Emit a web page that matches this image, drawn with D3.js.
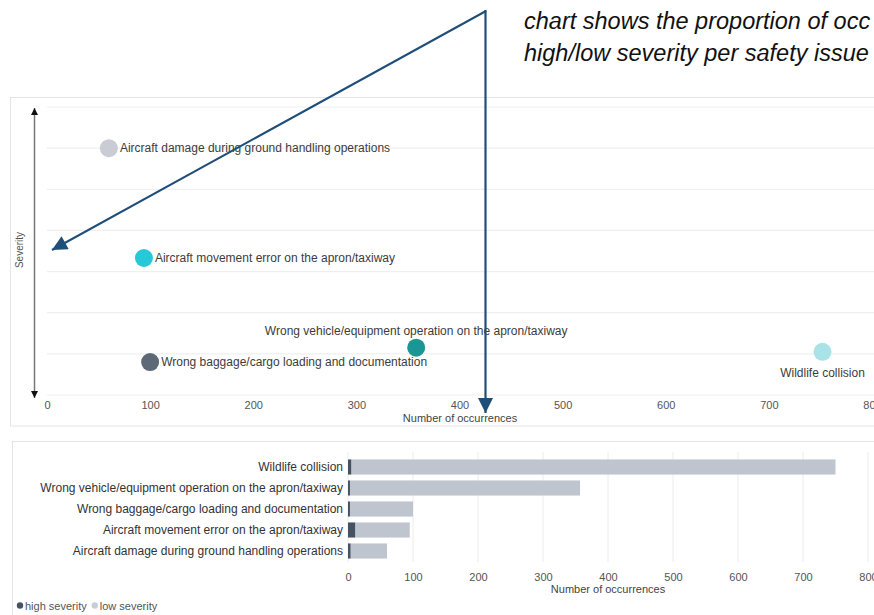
<!DOCTYPE html>
<html><head><meta charset="utf-8">
<script src="https://cdn.jsdelivr.net/npm/d3@7"></script>
<style>
html,body{margin:0;padding:0;background:#fff;}
svg{display:block;font-family:"Liberation Sans",Arial,sans-serif;}
</style></head>
<body>
<svg id="c" width="874" height="615"></svg>
<script>
// ---- data ----
const categories = [
  "Aircraft damage during ground handling operations",
  "Aircraft movement error on the apron/taxiway",
  "Wrong baggage/cargo loading and documentation",
  "Wrong vehicle/equipment operation on the apron/taxiway",
  "Wildlife collision"
];
const occurrences = [60, 94, 100, 358, 752];
const severity = [6.0, 3.33, 0.8, 1.15, 1.05];
const labelSide = ["right", "right", "right", "above", "below"];
const pointColors = ["#c9ccd4", "#27c9d8", "#5e6978", "#1a9695", "#a9e3e8"];

const barCategories = [
  "Wildlife collision",
  "Wrong vehicle/equipment operation on the apron/taxiway",
  "Wrong baggage/cargo loading and documentation",
  "Aircraft movement error on the apron/taxiway",
  "Aircraft damage during ground handling operations"
];
const highSeverity = [5, 3, 3, 11, 4];
const lowSeverity = [745, 354, 97, 84, 56];
const xTicks = [0, 100, 200, 300, 400, 500, 600, 700, 800];
const severityGrid = [0, 1, 2, 3, 4, 5, 6, 7];
const noteLines = ["chart shows the proportion of occ", "high/low severity per safety issue"];

const svg = d3.select("#c");

// ---- top panel ----
svg.append("rect").attr("x", 10.5).attr("y", 97.5).attr("width", 880).attr("height", 328.5)
  .attr("fill", "none").attr("stroke", "#e4e4e4");

const x1 = d3.scaleLinear().domain([0, 800]).range([47, 872]);
const y1 = d3.scaleLinear().domain([0, 7]).range([395, 107]);

const topG = svg.append("g");
topG.selectAll("line.g").data(severityGrid).join("line")
  .attr("x1", 47).attr("x2", 874)
  .attr("y1", d => y1(d)).attr("y2", d => y1(d))
  .attr("stroke", "#efefef").attr("stroke-width", 1.2);

const ax1 = topG.append("g").attr("transform", "translate(0,405)")
  .call(d3.axisBottom(x1).tickValues(xTicks).tickSize(0).tickPadding(0));
ax1.select(".domain").remove();
ax1.selectAll("text").attr("fill", "#555").attr("font-size", 11).attr("font-family", "Liberation Sans, Arial, sans-serif").attr("dy", "0.32em");

topG.append("text").attr("x", 460).attr("y", 422).attr("text-anchor", "middle")
  .attr("font-size", 11).attr("fill", "#444").text("Number of occurrences");

// severity axis
const defs = svg.append("defs");
defs.append("marker").attr("id", "sv").attr("viewBox", "0 0 10 10").attr("refX", 10).attr("refY", 5)
  .attr("markerWidth", 7).attr("markerHeight", 7).attr("markerUnits", "userSpaceOnUse").attr("orient", "auto-start-reverse")
  .append("path").attr("d", "M0,0 L10,5 L0,10 Z").attr("fill", "#111");
topG.append("line").attr("x1", 34.5).attr("x2", 34.5).attr("y1", y1(7) + 1).attr("y2", y1(0) + 3)
  .attr("stroke", "#777").attr("stroke-width", 1.5)
  .attr("marker-start", "url(#sv)").attr("marker-end", "url(#sv)");
topG.append("text").attr("transform", "translate(23,250) rotate(-90)").attr("text-anchor", "middle")
  .attr("font-size", 10).attr("fill", "#555").text("Severity");

const pts = categories.map((c, i) => ({c, x: occurrences[i], y: severity[i], side: labelSide[i], col: pointColors[i]}));
topG.selectAll("circle.p").data(pts).join("circle")
  .attr("cx", d => x1(d.x)).attr("cy", d => y1(d.y)).attr("r", 9).attr("fill", d => d.col);
topG.selectAll("text.l").data(pts).join("text")
  .attr("x", d => d.side === "right" ? x1(d.x) + 11 : x1(d.x))
  .attr("y", d => d.side === "right" ? y1(d.y) + 4 : d.side === "above" ? y1(d.y) - 13 : y1(d.y) + 25)
  .attr("text-anchor", d => d.side === "right" ? "start" : "middle")
  .attr("font-size", 12).attr("fill", "#3c3c3c").text(d => d.c);

// ---- bottom panel ----
svg.append("rect").attr("x", 12.5).attr("y", 441.5).attr("width", 880).attr("height", 200)
  .attr("fill", "none").attr("stroke", "#e4e4e4");

const x2 = d3.scaleLinear().domain([0, 800]).range([348, 868]);
const y2 = d3.scaleBand().domain(barCategories).range([456.5, 561.5]).paddingInner(0.28).paddingOuter(0.14);

const bot = svg.append("g");
bot.selectAll("line.vg").data(xTicks).join("line")
  .attr("x1", d => x2(d)).attr("x2", d => x2(d)).attr("y1", 452).attr("y2", 562)
  .attr("stroke", "#ececec");

const bars = barCategories.map((c, i) => ({c, hi: highSeverity[i], lo: lowSeverity[i]}));
bot.selectAll("rect.lo").data(bars).join("rect")
  .attr("x", d => x2(d.hi)).attr("y", d => y2(d.c)).attr("width", d => x2(d.hi + d.lo) - x2(d.hi))
  .attr("height", y2.bandwidth()).attr("fill", "#bfc5cf");
bot.selectAll("rect.hi").data(bars).join("rect")
  .attr("x", x2(0)).attr("y", d => y2(d.c)).attr("width", d => x2(d.hi) - x2(0))
  .attr("height", y2.bandwidth()).attr("fill", "#465262");

const ay2 = bot.append("g").attr("transform", "translate(343,0)")
  .call(d3.axisLeft(y2).tickSize(0).tickPadding(0));
ay2.select(".domain").remove();
ay2.selectAll("text").attr("fill", "#333").attr("font-size", 12).attr("font-family", "Liberation Sans, Arial, sans-serif");

const ax2 = bot.append("g").attr("transform", "translate(0,577)")
  .call(d3.axisBottom(x2).tickValues(xTicks).tickSize(0).tickPadding(0));
ax2.select(".domain").remove();
ax2.selectAll("text").attr("fill", "#555").attr("font-size", 11).attr("font-family", "Liberation Sans, Arial, sans-serif").attr("dy", "0.32em");
bot.append("text").attr("x", 608).attr("y", 593).attr("text-anchor", "middle")
  .attr("font-size", 11).attr("fill", "#444").text("Number of occurrences");

// legend
const legendItems = [{t: "high severity", c: "#465262"}, {t: "low severity", c: "#c8ccd4"}];
const lg = bot.append("g").attr("font-size", 11).attr("fill", "#555");
let lx = 17;
legendItems.forEach(d => {
  lg.append("circle").attr("cx", lx + 3).attr("cy", 605.5).attr("r", 3.2).attr("fill", d.c);
  const t = lg.append("text").attr("x", lx + 8).attr("y", 609.5).text(d.t);
  lx += 8 + t.node().getComputedTextLength() + 5;
});

// ---- annotation ----
const ann = svg.append("g");
ann.selectAll("text").data(noteLines).join("text")
  .attr("x", 524).attr("y", (d, i) => 29 + i * 32)
  .attr("font-size", 23.5).attr("font-style", "italic").attr("fill", "#111").text(d => d);

defs.append("marker").attr("id", "ah").attr("viewBox", "0 0 10 10").attr("refX", 10).attr("refY", 5)
  .attr("markerWidth", 17).attr("markerHeight", 15).attr("markerUnits", "userSpaceOnUse").attr("orient", "auto")
  .append("path").attr("d", "M0,0 L10,5 L0,10 Z").attr("fill", "#1f4e79");
ann.append("line").attr("x1", 486).attr("y1", 11).attr("x2", 52).attr("y2", 250)
  .attr("stroke", "#1f4e79").attr("stroke-width", 2).attr("marker-end", "url(#ah)");
ann.append("line").attr("x1", 485.5).attr("y1", 10).attr("x2", 485.5).attr("y2", 413)
  .attr("stroke", "#1f4e79").attr("stroke-width", 2.2).attr("marker-end", "url(#ah)");
</script>
</body></html>
